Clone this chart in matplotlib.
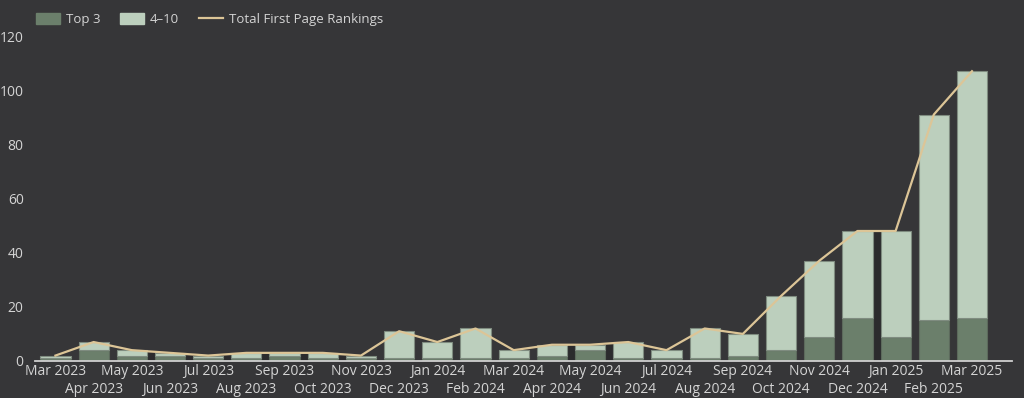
#!/usr/bin/env python3
# -*- coding: utf-8 -*-

import numpy as np
import matplotlib
matplotlib.use("Agg")
import matplotlib.pyplot as plt
from matplotlib.patches import Patch
from matplotlib.lines import Line2D

months = ["Mar 2023", "Apr 2023", "May 2023", "Jun 2023", "Jul 2023", "Aug 2023",
          "Sep 2023", "Oct 2023", "Nov 2023", "Dec 2023", "Jan 2024", "Feb 2024",
          "Mar 2024", "Apr 2024", "May 2024", "Jun 2024", "Jul 2024", "Aug 2024",
          "Sep 2024", "Oct 2024", "Nov 2024", "Dec 2024", "Jan 2025", "Feb 2025",
          "Mar 2025"]
top3 = [1, 4, 2, 2, 1, 1, 2, 1, 1, 1, 1, 1, 1, 2, 4, 1, 1, 1, 2, 4, 9, 16, 9, 15, 16]
pos4_10 = [1, 3, 2, 1, 1, 2, 1, 2, 1, 10, 6, 11, 3, 4, 2, 6, 3, 11, 8, 20, 28, 32, 39, 76, 91]
total = [2, 7, 4, 3, 2, 3, 3, 3, 2, 11, 7, 12, 4, 6, 6, 7, 4, 12, 10, 24, 37, 48, 48, 91, 107]
# dark shadow blocks seen in the gaps between some neighbouring bars
gap_shadow = [0, 0, 3, 2, 2, 3, 3, 2, 0, 0, 0, 0, 0, 6, 6, 0, 0, 0, 0, 0, 0, 48, 0, 0]

bg = "#363638"
c_top3 = "#6b7f6b"
c_rest = "#bccfbd"
c_line = "#dcc597"
c_text = "#d4d4d4"

plt.rcParams['font.family'] = ['Open Sans', 'DejaVu Sans']

fig = plt.figure(figsize=(10.24, 3.98), dpi=100, facecolor=bg)
ax = fig.add_axes([0.034, 0.093, 0.954, 0.8165], facecolor=bg)

x = np.arange(len(months))
w = 0.79
ax.bar(x[:-1] + 0.5, gap_shadow, width=1 - w, color="#2b2b2d", zorder=1)
ax.bar(x, top3, width=w, color=c_top3, edgecolor="#5c6a5c", linewidth=0.8, zorder=2)
ax.bar(x, pos4_10, bottom=top3, width=w, color=c_rest, edgecolor="#7f8c80",
       linewidth=0.8, zorder=2)
ax.plot(x, total, color=c_line, lw=1.6, zorder=3)

ax.set_xlim(-0.54, 25.04)
ax.set_ylim(0, 120)
ax.set_yticks([0, 20, 40, 60, 80, 100, 120])
# alternate month labels on two rows
ax.set_xticks(x[::2])
ax.set_xticklabels(months[::2])
ax.set_xticks(x[1::2], minor=True)
ax.set_xticklabels(months[1::2], minor=True)
ax.tick_params(axis='both', which='both', length=0, colors=c_text, labelsize=10)
ax.tick_params(axis='x', which='major', pad=2)
ax.tick_params(axis='x', which='minor', pad=15)
ax.tick_params(axis='y', pad=8)
for s in ["top", "right", "left"]:
    ax.spines[s].set_visible(False)
ax.spines["bottom"].set_color("#cfcfcf")
ax.spines["bottom"].set_linewidth(1.3)

handles = [Patch(facecolor=c_top3, edgecolor=c_top3, label="Top 3"),
           Patch(facecolor=c_rest, edgecolor=c_rest, label="4–10"),
           Line2D([0], [0], color=c_line, lw=1.6, label="Total First Page Rankings")]
fig.legend(handles=handles, loc="upper left", bbox_to_anchor=(0.024, 0.998), ncol=3,
           frameon=False, fontsize=9.5, labelcolor=c_text, handlelength=1.8,
           handleheight=0.9, columnspacing=1.5, handletextpad=0.45)

fig.savefig("out.png", dpi=100, facecolor=bg)
